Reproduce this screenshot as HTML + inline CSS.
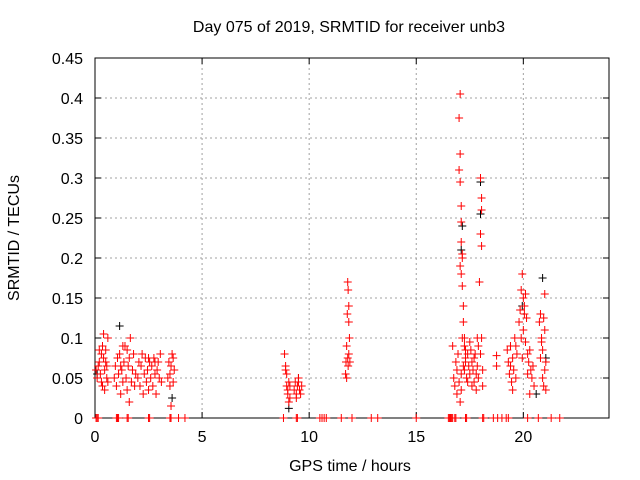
<!DOCTYPE html>
<html><head><meta charset="utf-8"><style>
body{margin:0;background:#fff;}
svg{display:block;font-family:"Liberation Sans",sans-serif;}
</style></head><body>
<svg id="chart" width="640" height="480">
<text x="349" y="32" text-anchor="middle" font-size="16">Day 075 of 2019, SRMTID for receiver unb3</text>
<text x="350" y="471" text-anchor="middle" font-size="16">GPS time / hours</text>
<text transform="translate(19,238) rotate(-90)" text-anchor="middle" font-size="16">SRMTID / TECUs</text>
<g id="grid"></g><g id="axes"></g><g id="marks"></g>
</svg>
<script>
const xTicks=[0,5,10,15,20];
const yTicks=[0,0.05,0.1,0.15,0.2,0.25,0.3,0.35,0.4,0.45];
const yTickLabels=["0","0.05","0.1","0.15","0.2","0.25","0.3","0.35","0.4","0.45"];
const redPoints=[[0.05,.06],[0.1,.05],[0.15,.065],[0.2,.07],[0.25,.055],[0.3,.08],[0.3,.045],[0.35,.09],[0.4,.075],[0.4,.105],[0.45,.06],[0.45,.035],[0.5,.07],[0.5,.085],[0.55,.065],[0.6,.045],[0.6,.1],[0.35,.04],[0.2,.085],[0.55,.05],
[0.9,.05],[0.95,.065],[1.0,.04],[1.05,.075],[1.1,.055],[1.15,.08],[1.2,.03],[1.25,.06],[1.3,.045],[1.35,.07],[1.4,.09],[1.45,.05],[1.5,.035],[1.55,.065],[1.6,.075],[1.65,.1],[1.7,.045],[1.75,.06],[1.8,.08],[1.85,.04],[1.9,.055],[1.3,.09],[1.5,.085],[1.2,.065],[1.6,.02],
[2.0,.05],[2.05,.07],[2.1,.04],[2.15,.065],[2.2,.08],[2.25,.03],[2.3,.055],[2.35,.075],[2.4,.045],[2.45,.06],[2.5,.035],[2.55,.07],[2.6,.05],[2.65,.065],[2.7,.04],[2.75,.075],[2.8,.055],[2.85,.03],[2.9,.06],[2.95,.07],[3.0,.05],[3.05,.08],[3.1,.045],[2.5,.075],[2.8,.07],
[3.4,.05],[3.45,.07],[3.5,.04],[3.55,.065],[3.6,.08],[3.65,.045],[3.7,.06],[3.55,.015],[3.5,.055],[3.65,.075],
[8.85,.08],[8.9,.065],[8.95,.04],[9.0,.03],[9.05,.045],[9.1,.025],[8.95,.055],[9.0,.035],[9.05,.02],[9.1,.04],[8.9,.06],
[9.3,.035],[9.35,.045],[9.4,.03],[9.45,.04],[9.5,.05],[9.55,.035],[9.6,.03],[9.65,.04],[9.4,.025],[9.5,.045],
[11.7,.055],[11.72,.07],[11.75,.09],[11.78,.13],[11.8,.17],[11.82,.16],[11.85,.14],[11.85,.08],[11.88,.1],[11.9,.07],[11.75,.05],[11.8,.075],[11.85,.12],[11.82,.065],
[16.7,.09],[16.75,.05],[16.8,.04],[16.85,.07],[16.9,.03],[16.9,.06],[16.95,.08],[17.0,.375],[17.05,.405],[17.05,.33],[17.0,.31],[17.05,.295],[17.1,.265],[17.1,.245],[17.1,.22],[17.15,.205],[17.15,.2],[17.05,.19],[17.1,.18],[17.15,.165],[17.2,.14],[17.2,.12],[17.25,.1],[17.25,.09],[17.3,.085],[17.3,.07],[17.2,.065],[17.1,.055],[17.0,.045],[17.05,.02],[17.1,.035],[17.25,.06],[17.3,.075],[17.15,.1],[17.35,.05],[17.4,.08],[17.45,.065],[17.4,.045],[17.5,.095],[17.5,.055],[17.55,.085],[17.6,.04],[17.6,.07],[17.65,.06],[17.7,.075],[17.7,.045],[17.75,.08],
[17.8,.055],[17.8,.035],[17.85,.065],[17.85,.1],[17.9,.05],[17.95,.17],[18.0,.3],[18.05,.275],[18.05,.26],[18.0,.23],[18.05,.215],[18.05,.1],[18.0,.08],[18.1,.06],[18.1,.04],[17.9,.09],
[18.75,.078],[18.75,.065],
[19.25,.085],[19.3,.07],[19.35,.055],[19.4,.09],[19.45,.045],[19.5,.075],[19.55,.06],[19.6,.1],[19.65,.05],[19.7,.08],[19.5,.035],[19.4,.065],[19.65,.09],
[19.8,.12],[19.85,.135],[19.9,.16],[19.95,.18],[20.0,.15],[20.05,.14],[20.1,.155],[20.15,.125],[20.0,.11],[19.9,.1],[20.1,.095],[20.2,.08],[20.25,.07],[20.3,.085],[20.35,.06],[20.4,.05],[20.45,.065],[20.5,.04],[20.3,.03],[20.2,.055],[20.05,.13],[19.95,.075],
[20.75,.12],[20.8,.13],[20.85,.1],[20.9,.085],[20.95,.125],[21.0,.11],[21.05,.07],[21.0,.06],[20.9,.05],[20.95,.04],[21.05,.035],[20.8,.075],[21.0,.155],[20.85,.095]];
const blackPoints=[[0.1,.055],[1.15,.115],[3.6,.025],[9.05,.012],[9.5,.05],[17.15,.24],[17.1,.21],[18.0,.295],[18.0,.255],[19.95,.14],[20.9,.175],[20.6,.03],[21.05,.075]];
const zeroTimes=[0.05,0.1,0.15,1,1.05,1.1,1.5,1.55,2.5,2.55,3.5,3.55,3.9,4.2,8.8,9.4,9.45,10.5,10.6,10.7,10.8,11.5,12,12.9,13.2,15,16.5,16.55,16.6,16.65,16.7,16.8,16.85,17.3,17.35,18.1,18.15,18.6,18.8,19,19.2,19.3,20.2,20.7,21.3,21.7];
const L=95,R=609,T=58,B=418,XMAX=24,YMAX=0.45;
const xs=t=>L+t/XMAX*(R-L), ys=v=>B-v/YMAX*(B-T);
const NS="http://www.w3.org/2000/svg";
function mk(tag,parent,attrs){const e=document.createElementNS(NS,tag);for(const k in attrs)e.setAttribute(k,attrs[k]);parent.appendChild(e);return e;}
const grid=document.getElementById('grid'),axes=document.getElementById('axes'),marks=document.getElementById('marks');
xTicks.forEach(t=>{
 if(t>0){const g=mk('line',grid,{x1:xs(t),x2:xs(t),y1:T,y2:B,stroke:'#a0a0a0','stroke-dasharray':'2,3'});
 
 }
 mk('line',axes,{x1:xs(t),x2:xs(t),y1:B,y2:B-6,stroke:'#000'});
 mk('line',axes,{x1:xs(t),x2:xs(t),y1:T,y2:T+6,stroke:'#000'});
 const lb=mk('text',axes,{x:xs(t),y:B+24,'text-anchor':'middle','font-size':16});lb.textContent=t;
 
 
});
yTicks.forEach((v,i)=>{
 if(v>0){const g=mk('line',grid,{x1:L,x2:R,y1:ys(v),y2:ys(v),stroke:'#a0a0a0','stroke-dasharray':'2,3'});
 
 }
 mk('line',axes,{x1:L,x2:L+6,y1:ys(v),y2:ys(v),stroke:'#000'});
 mk('line',axes,{x1:R,x2:R-6,y1:ys(v),y2:ys(v),stroke:'#000'});
 const lb=mk('text',axes,{x:L-12,y:ys(v)+6,'text-anchor':'end','font-size':16});lb.textContent=yTickLabels[i];
 
 
});
const frame=mk('rect',axes,{x:L,y:T,width:R-L,height:B-T,fill:'none',stroke:'#000'});


function plus(p,color,name){
 const x=xs(p[0]),y=ys(p[1]);
 const e=mk('path',marks,{d:`M${x-4},${y}h8M${x},${y-4}v8`,stroke:color,'stroke-width':1,fill:'none'});
 
 
}
blackPoints.forEach(p=>plus(p,'#000','black-point'));
redPoints.forEach(p=>plus(p,'#f00','red-point'));
zeroTimes.forEach(t=>plus([t,0],'#f00','zero-point'));
</script>
</body></html>
